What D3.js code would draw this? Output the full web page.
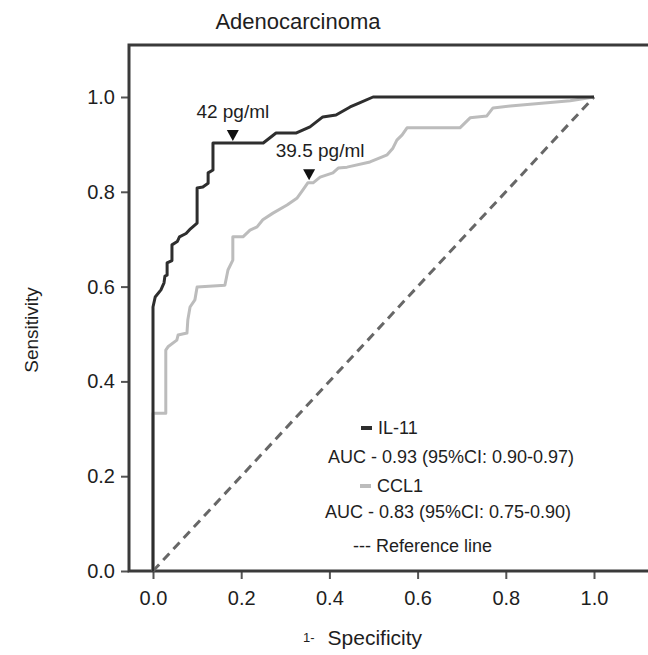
<!DOCTYPE html>
<html>
<head>
<meta charset="utf-8">
<script src="https://cdn.jsdelivr.net/npm/d3@7"></script>
<style>
  html, body { margin: 0; padding: 0; background: #fff; }
  svg { display: block; font-family: "Liberation Sans", Arial, Helvetica, sans-serif; }
</style>
</head>
<body>
<svg id="chart" width="648" height="655"></svg>
<script>
// ---------- data ----------
const title = "Adenocarcinoma";
const xTicks = [0.0, 0.2, 0.4, 0.6, 0.8, 1.0];
const yTicks = [0.0, 0.2, 0.4, 0.6, 0.8, 1.0];

// IL-11 ROC curve: [1 - specificity, sensitivity]
const il11 = [
  [0,0],[0,0.557],[0.005,0.578],[0.018,0.593],[0.025,0.608],[0.027,0.622],
  [0.032,0.624],[0.032,0.650],[0.043,0.655],[0.043,0.688],[0.055,0.695],
  [0.060,0.705],[0.075,0.712],[0.085,0.722],[0.100,0.734],[0.100,0.808],
  [0.113,0.810],[0.125,0.818],[0.125,0.840],[0.136,0.846],[0.136,0.903],
  [0.250,0.903],[0.279,0.924],[0.324,0.924],[0.356,0.937],[0.385,0.958],
  [0.415,0.962],[0.447,0.979],[0.467,0.987],[0.499,1.0],[1,1]
];
// CCL1 ROC curve
const ccl1 = [
  [0,0],[0,0.333],[0.029,0.333],[0.029,0.466],[0.034,0.473],[0.054,0.487],
  [0.057,0.498],[0.077,0.502],[0.079,0.530],[0.084,0.557],[0.095,0.572],
  [0.100,0.599],[0.163,0.603],[0.170,0.635],[0.181,0.656],[0.181,0.705],
  [0.204,0.705],[0.220,0.719],[0.236,0.726],[0.249,0.741],[0.272,0.755],
  [0.304,0.772],[0.327,0.787],[0.340,0.804],[0.351,0.819],[0.363,0.819],
  [0.379,0.831],[0.408,0.840],[0.420,0.850],[0.440,0.852],[0.492,0.863],
  [0.531,0.878],[0.544,0.892],[0.553,0.909],[0.565,0.920],[0.576,0.935],
  [0.696,0.935],[0.719,0.956],[0.757,0.960],[0.771,0.977],[0.810,0.981],
  [0.946,0.992],[1,1]
];
const referenceLine = [[0,0],[1,1]];

// cut-off annotations
const cutoffs = [
  { label: "42 pg/ml",   fpr: 0.181, tpr: 0.903, dx: 0 },
  { label: "39.5 pg/ml", fpr: 0.354, tpr: 0.820, dx: 11 }
];

const legendLines = [
  { text: "IL-11", swatch: "il11" },
  { text: "AUC - 0.93 (95%CI: 0.90-0.97)" },
  { text: "CCL1", swatch: "ccl1" },
  { text: "AUC - 0.83 (95%CI: 0.75-0.90)" },
  { text: "--- Reference line" }
];

// ---------- drawing ----------
const svg = d3.select("#chart");
const x = d3.scaleLinear().domain([0, 1]).range([153, 594]);
const y = d3.scaleLinear().domain([0, 1]).range([571, 97]);

const colors = { il11: "#2e2e2e", ccl1: "#bcbcbc", ref: "#676767", frame: "#3a3a3a", text: "#1e1e1e" };

// title
svg.append("text").attr("x", 298).attr("y", 29).attr("text-anchor", "middle")
  .attr("font-size", 22).attr("fill", colors.text).text(title);

// axes
const yAxis = d3.axisLeft(y).tickValues(yTicks).tickFormat(d3.format(".1f")).tickSize(8).tickPadding(6);
const gy = svg.append("g").attr("transform", "translate(129,0)").call(yAxis);
const xAxis = d3.axisBottom(x).tickValues(xTicks).tickFormat(d3.format(".1f")).tickSize(8).tickPadding(12);
const gx = svg.append("g").attr("transform", "translate(0,571)").call(xAxis);
[gx, gy].forEach(g => {
  g.select(".domain").remove();
  g.selectAll(".tick line").attr("stroke", "#555").attr("stroke-width", 2);
  g.selectAll(".tick text").attr("font-size", 20).attr("fill", colors.text)
    .attr("font-family", "'Liberation Sans', Arial, sans-serif");
});

// frame (extends beyond right edge)
svg.append("path")
  .attr("d", `M660,${45}H129V571H660`)
  .attr("fill", "none").attr("stroke", colors.frame).attr("stroke-width", 3);

// axis titles
svg.append("text").attr("transform", "translate(38,330) rotate(-90)")
  .attr("text-anchor", "middle").attr("font-size", 19).attr("fill", colors.text).text("Sensitivity");
const xl = svg.append("text").attr("x", 303).attr("y", 645).attr("fill", colors.text);
xl.append("tspan").attr("font-size", 13).attr("dy", -3).text("1-");
xl.append("tspan").attr("font-size", 21).attr("dy", 3).attr("dx", 13).text("Specificity");

const line = d3.line().x(d => x(d[0])).y(d => y(d[1]));

// reference line
svg.append("path").datum(referenceLine).attr("d", line)
  .attr("fill", "none").attr("stroke", colors.ref).attr("stroke-width", 3).attr("stroke-dasharray", "9,6");

// curves
svg.append("path").datum(ccl1).attr("d", line)
  .attr("fill", "none").attr("stroke", colors.ccl1).attr("stroke-width", 3).attr("stroke-linejoin", "round");
svg.append("path").datum(il11).attr("d", line)
  .attr("fill", "none").attr("stroke", colors.il11).attr("stroke-width", 3).attr("stroke-linejoin", "round");

// cut-off markers
cutoffs.forEach(c => {
  const px = x(c.fpr), py = y(c.tpr) - 2;
  svg.append("path").attr("d", `M${px-6},${py-11}L${px+6},${py-11}L${px},${py}Z`).attr("fill", "#111");
  svg.append("text").attr("x", px + c.dx).attr("y", py - 23).attr("text-anchor", "middle")
    .attr("font-size", 19).attr("fill", colors.text).text(c.label);
});

// legend
const legendPos = [
  { x: 378, y: 434 }, { x: 328, y: 463 }, { x: 377, y: 492 }, { x: 325, y: 518 }, { x: 353, y: 552 }
];
legendLines.forEach((l, i) => {
  const p = legendPos[i];
  if (l.swatch) {
    svg.append("line").attr("x1", p.x - 17).attr("x2", p.x - 6).attr("y1", p.y - 6).attr("y2", p.y - 6)
      .attr("stroke", colors[l.swatch]).attr("stroke-width", 4);
  }
  svg.append("text").attr("x", p.x).attr("y", p.y).attr("font-size", 18).attr("fill", colors.text).text(l.text);
});
</script>
</body>
</html>
